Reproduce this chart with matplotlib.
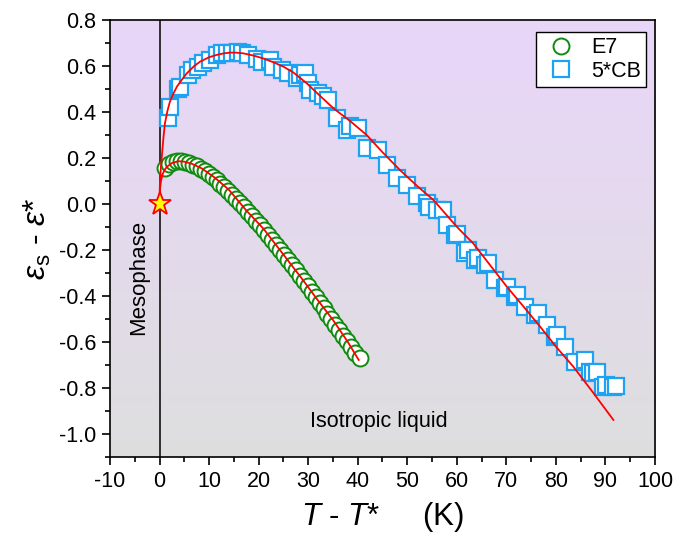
import matplotlib
matplotlib.use("Agg")
import matplotlib.pyplot as plt
import matplotlib.ticker as ticker
import numpy as np
from matplotlib.colors import LinearSegmentedColormap

plt.rcParams['font.family'] = ['Liberation Sans', 'DejaVu Sans']
plt.rcParams['mathtext.fontset'] = 'custom'
plt.rcParams['mathtext.rm'] = 'Liberation Sans'
plt.rcParams['mathtext.it'] = 'Liberation Sans:italic'
plt.rcParams['axes.unicode_minus'] = False

# E7 measured points (T - T*, eps_s - eps*)
e7_t = [1.1, 1.9, 2.7, 3.5, 4.3, 5.1, 5.9, 6.7, 7.5, 8.3, 9.1, 9.9, 10.7, 11.5,
        12.3, 13.1, 13.9, 14.7, 15.5, 16.3, 17.1, 17.9, 18.7, 19.5, 20.3, 21.1,
        21.9, 22.7, 23.5, 24.3, 25.1, 25.9, 26.7, 27.5, 28.3, 29.1, 29.9, 30.7,
        31.5, 32.3, 33.1, 33.9, 34.7, 35.5, 36.3, 37.1, 37.9, 38.7, 39.5, 40.5]
e7_y = [0.155, 0.172, 0.182, 0.186, 0.186, 0.183, 0.178, 0.171, 0.163, 0.153,
        0.142, 0.130, 0.117, 0.103, 0.088, 0.073, 0.057, 0.040, 0.022, 0.004,
        -0.014, -0.033, -0.052, -0.072, -0.092, -0.113, -0.134, -0.156, -0.178,
        -0.200, -0.222, -0.244, -0.266, -0.289, -0.312, -0.335, -0.358, -0.381,
        -0.405, -0.429, -0.453, -0.477, -0.500, -0.524, -0.548, -0.572, -0.597,
        -0.622, -0.646, -0.670]

# 5*CB measured points
cb_t = [1.8, 2.1, 3.8, 4.2, 5.8, 6.5, 7.8, 8.8, 10.2, 11.5, 12.6, 13.6, 14.6, 15.9,
        16.6, 17.9, 19.6, 20.6, 22.3, 23.0, 24.7, 26.0, 27.7, 28.4, 29.4, 30.0,
        30.4, 32.0, 33.0, 34.0, 35.8, 37.8, 38.5, 40.1, 41.8, 44.0, 45.9, 47.9,
        49.9, 51.9, 53.9, 54.3, 55.9, 57.3, 58.0, 59.6, 60.0, 61.7, 62.3, 63.7,
        64.3, 65.7, 66.3, 67.7, 69.7, 70.2, 71.7, 72.2, 73.8, 75.8, 76.3, 78.1,
        79.8, 80.3, 81.8, 83.9, 85.9, 86.9, 87.5, 88.2, 89.6, 90.2, 91.6, 92.2]
cb_y = [0.373, 0.420, 0.499, 0.510, 0.561, 0.583, 0.597, 0.612, 0.626, 0.648,
        0.655, 0.658, 0.655, 0.662, 0.658, 0.648, 0.629, 0.619, 0.626, 0.597,
        0.583, 0.568, 0.547, 0.561, 0.568, 0.525, 0.496, 0.481, 0.470, 0.452,
        0.372, 0.322, 0.340, 0.330, 0.245, 0.235, 0.170, 0.115, 0.083, 0.035,
        0.003, -0.012, -0.026, -0.026, -0.091, -0.135, -0.130, -0.214, -0.200,
        -0.243, -0.235, -0.265, -0.258, -0.330, -0.367, -0.360, -0.403, -0.395,
        -0.447, -0.483, -0.476, -0.526, -0.577, -0.570, -0.620, -0.686, -0.678,
        -0.729, -0.736, -0.730, -0.794, -0.787, -0.794, -0.790]

# fitted curves
e7_fit_t = [0, 0.05, 0.15, 0.3, 0.6, 1.0, 1.5, 2.5, 3.8, 5.0, 6.5, 8.5, 11.0,
            14.0, 17.5, 21.0, 25.0, 28.5, 32.0, 35.0, 38.0, 40.2]
e7_fit_y = [0, 0.045, 0.075, 0.100, 0.128, 0.148, 0.162, 0.178, 0.186, 0.184,
            0.175, 0.155, 0.117, 0.062, -0.028, -0.108, -0.220, -0.318, -0.420,
            -0.504, -0.600, -0.678]
cb_fit_t = [0, 0.05, 0.15, 0.3, 0.5, 0.8, 1.1, 1.6, 2.1, 2.8, 3.5, 4.5, 5.5, 7.0,
            8.2, 10.0, 11.5, 13.0, 14.2, 15.5, 16.9, 19.0, 20.9, 23.0, 25.0, 27.0,
            29.7, 32.0, 35.1, 38.5, 41.8, 45.0, 48.5, 52.0, 55.3, 58.0, 60.3,
            63.3, 66.5, 70.1, 73.5, 76.8, 80.0, 83.5, 87.5, 91.6]
cb_fit_y = [0, 0.070, 0.120, 0.165, 0.215, 0.290, 0.351, 0.405, 0.445, 0.480,
            0.510, 0.540, 0.568, 0.600, 0.619, 0.638, 0.648, 0.655, 0.658, 0.658,
            0.655, 0.645, 0.633, 0.616, 0.597, 0.572, 0.525, 0.478, 0.416, 0.360,
            0.300, 0.225, 0.148, 0.078, 0.017, -0.050, -0.106, -0.171, -0.260,
            -0.360, -0.447, -0.533, -0.620, -0.707, -0.820, -0.939]

fig = plt.figure(figsize=(6.73, 5.43), dpi=100)
ax = fig.add_axes([0.1634, 0.1584, 0.8099, 0.8048])

# background gradient: violet at top, grey at bottom
cmap = LinearSegmentedColormap.from_list('bg', ['#DEDEDE', '#E9D6FA'])
grad = np.linspace(0, 1, 256).reshape(-1, 1)
ax.imshow(grad, cmap=cmap, origin='lower', aspect='auto',
          extent=[0, 1, 0, 1], transform=ax.transAxes, zorder=0)

ax.axvline(0, color='#222222', lw=1.3, zorder=1)

ax.plot(e7_t, e7_y, 'o', ms=11.5, mfc='white', mec='#108A10', mew=1.4,
        zorder=2, label='E7')
ax.plot(cb_t, cb_y, 's', ms=11, mfc='white', mec='#1FA2F2', mew=1.6,
        zorder=2, label='5*CB')
ax.plot(e7_fit_t, e7_fit_y, color='red', lw=1.3, zorder=3)
ax.plot(cb_fit_t, cb_fit_y, color='red', lw=1.3, zorder=3)
ax.plot([0], [0], '*', ms=17, mfc='yellow', mec='red', mew=1.3, zorder=4)

ax.set_xlim(-10, 100)
ax.set_ylim(-1.1, 0.8)
ax.xaxis.set_major_locator(ticker.MultipleLocator(10))
ax.xaxis.set_minor_locator(ticker.MultipleLocator(5))
ax.yaxis.set_major_locator(ticker.MultipleLocator(0.2))
ax.yaxis.set_minor_locator(ticker.MultipleLocator(0.1))
ax.yaxis.set_major_formatter(ticker.FormatStrFormatter('%.1f'))
ax.tick_params(which='major', direction='out', length=6, width=1.2,
               labelsize=15.5, colors='black', pad=4)
ax.tick_params(which='minor', direction='out', length=3.5, width=1.2)
for s in ax.spines.values():
    s.set_linewidth(1.2)

ax.text(-4.3, -0.32, 'Mesophase', rotation=90, ha='center', va='center',
        fontsize=16)
ax.text(30.3, -0.945, 'Isotropic liquid', ha='left', va='center',
        fontsize=15.5)

ax.set_xlabel('$T$ - $T$*     (K)', fontsize=22.5, labelpad=6)
ax.set_ylabel(r'$\varepsilon_\mathrm{s}$ - $\varepsilon$*', fontsize=23,
              labelpad=4)

leg = ax.legend(loc='upper right', bbox_to_anchor=(0.9835, 0.9725),
                borderaxespad=0, fontsize=15.5, frameon=True, fancybox=False,
                edgecolor='black', framealpha=1, handletextpad=0.5,
                handlelength=1.8, borderpad=0.25, labelspacing=0.1)
leg.get_frame().set_linewidth(1.0)

fig.savefig('out.png', dpi=100)
